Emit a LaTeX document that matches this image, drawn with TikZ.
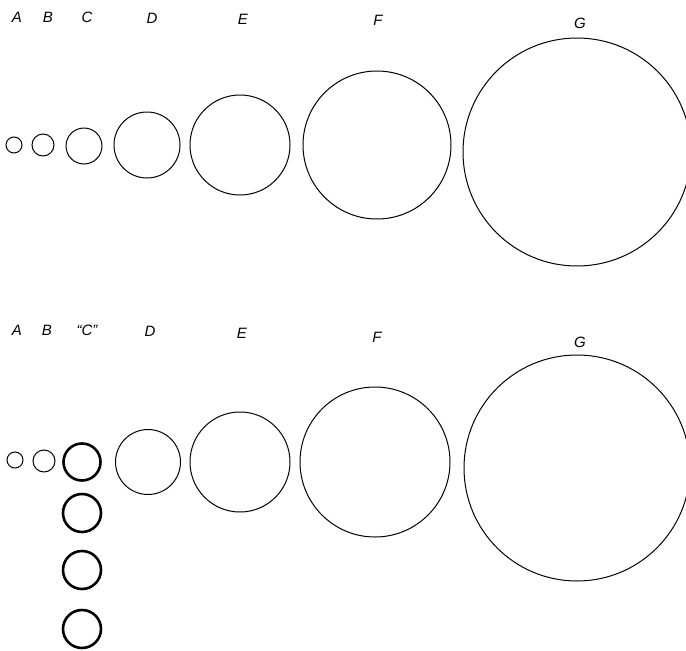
\documentclass[tikz,border=0pt]{standalone}
\usepackage{fontspec}
\setmainfont{Liberation Sans}
\begin{document}
\begin{tikzpicture}[x=1pt,y=-1pt,
  ring/.style={circle,draw,line width=1pt,inner sep=0pt,minimum size=#1},
  thickring/.style={circle,draw,line width=2.6pt,inner sep=0pt,minimum size=#1},
  lbl/.style={font=\itshape\fontsize{15}{15}\selectfont,inner sep=0pt}]
\useasboundingbox (0,0) rectangle (686,651);
\clip (0,0) rectangle (686,651);
% top row labels
\node[lbl] (tA) at (17,17) {A};
\node[lbl] (tB) at (48,17) {B};
\node[lbl] (tC) at (87,17) {C};
\node[lbl] (tD) at (152,18) {D};
\node[lbl] (tE) at (243,19) {E};
\node[lbl] (tF) at (378,20) {F};
\node[lbl] (tG) at (580,23) {G};
% top row circles
\node[ring=16pt] (cA) at (14,145) {};
\node[ring=22pt] (cB) at (43,145) {};
\node[ring=36pt] (cC) at (84,146) {};
\node[ring=66pt] (cD) at (147,145) {};
\node[ring=100pt] (cE) at (240,145) {};
\node[ring=148pt] (cF) at (377,145) {};
\node[ring=228pt] (cG) at (577,152) {};
% bottom row labels
\node[lbl] (bA) at (17,330) {A};
\node[lbl] (bB) at (47,330) {B};
\node[lbl] (bC) at (87,330) {``C''};
\node[lbl] (bD) at (150,331) {D};
\node[lbl] (bE) at (242,333) {E};
\node[lbl] (bF) at (377,337) {F};
\node[lbl] (bG) at (580,342) {G};
% bottom row circles
\node[ring=16pt] (dA) at (15,460) {};
\node[ring=22pt] (dB) at (44,461) {};
\node[thickring=37pt] (dC1) at (82,462) {};
\node[thickring=38pt] (dC2) at (82,513) {};
\node[thickring=38pt] (dC3) at (82,570) {};
\node[thickring=38pt] (dC4) at (82,629) {};
\node[ring=65pt] (dD) at (148,462) {};
\node[ring=100pt] (dE) at (240,462) {};
\node[ring=150pt] (dF) at (375,462) {};
\node[ring=226pt] (dG) at (577,468) {};
\end{tikzpicture}
\end{document}
